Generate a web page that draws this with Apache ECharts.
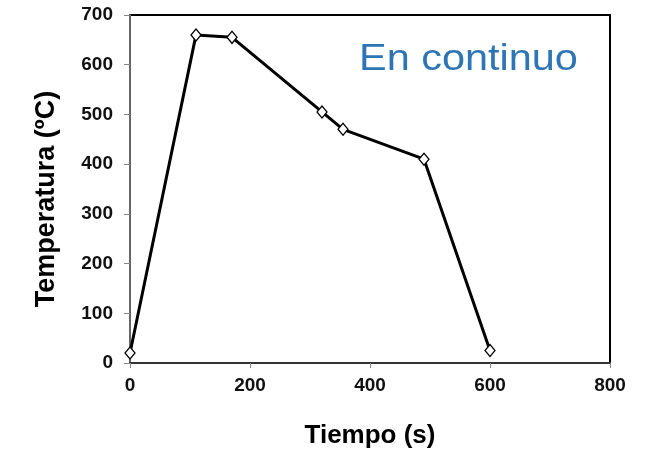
<!DOCTYPE html>
<html>
<head>
<meta charset="utf-8">
<script src="https://cdn.jsdelivr.net/npm/echarts@6/dist/echarts.min.js"></script>
<style>
  html, body { margin: 0; padding: 0; background: #fff; }
  #chart { width: 656px; height: 456px; }
</style>
</head>
<body>
<div id="chart"></div>
<script>
// Heating cycle: time (s) vs temperature (ºC)
const tiempos = [0, 110, 170, 320, 355, 490, 600];
const temperaturas = [20, 660, 655, 505, 470, 410, 25];
const xTicks = [0, 200, 400, 600, 800];
const yTicks = [0, 100, 200, 300, 400, 500, 600, 700];

const points = tiempos.map((t, i) => [t, temperaturas[i]]);
const fontFam = '"Liberation Sans", Arial, sans-serif';

const chart = echarts.init(document.getElementById('chart'));
chart.setOption({
  animation: false,
  backgroundColor: '#fff',
  grid: {
    left: 130, right: 46, top: 15, bottom: 93,
    show: true, borderColor: '#000', borderWidth: 2, backgroundColor: 'transparent'
  },
  xAxis: {
    type: 'value',
    min: xTicks[0], max: xTicks[xTicks.length - 1], interval: 200,
    name: 'Tiempo (s)', nameLocation: 'middle', nameGap: 60,
    nameTextStyle: { fontFamily: fontFam, fontWeight: 'bold', fontSize: 26, color: '#000' },
    axisLine: { show: true, lineStyle: { color: '#333', width: 2 } },
    axisTick: { show: true, inside: false, length: 5, lineStyle: { color: '#888', width: 1 } },
    axisLabel: { fontFamily: fontFam, fontWeight: 'bold', fontSize: 19, color: '#111', margin: 13 },
    splitLine: { show: false }
  },
  yAxis: {
    type: 'value',
    min: yTicks[0], max: yTicks[yTicks.length - 1], interval: 100,
    axisLine: { show: true, lineStyle: { color: '#666', width: 2 } },
    axisTick: { show: true, inside: false, length: 6, lineStyle: { color: '#888', width: 1 } },
    axisLabel: { fontFamily: fontFam, fontWeight: 'bold', fontSize: 19, color: '#111', margin: 17 },
    splitLine: { show: false }
  },
  graphic: [{
    type: 'text',
    x: 47, y: 199,
    rotation: Math.PI / 2,
    style: {
      text: 'Temperatura (ºC)', fontFamily: fontFam, fontWeight: 'bold', fontSize: 27,
      fill: '#000', align: 'center', verticalAlign: 'middle'
    }
  }, {
    type: 'text',
    x: 359, y: 41,
    scaleX: 1.12,
    style: { text: 'En continuo', fontFamily: fontFam, fontSize: 37, fill: '#2e75b6', verticalAlign: 'top' }
  }],
  series: [{
    type: 'line',
    data: points,
    symbol: 'diamond',
    symbolSize: [10, 12],
    showAllSymbol: true,
    lineStyle: { color: '#000', width: 3 },
    itemStyle: { color: '#fff', borderColor: '#000', borderWidth: 1.3 },
    z: 3
  }]
});
</script>
</body>
</html>
